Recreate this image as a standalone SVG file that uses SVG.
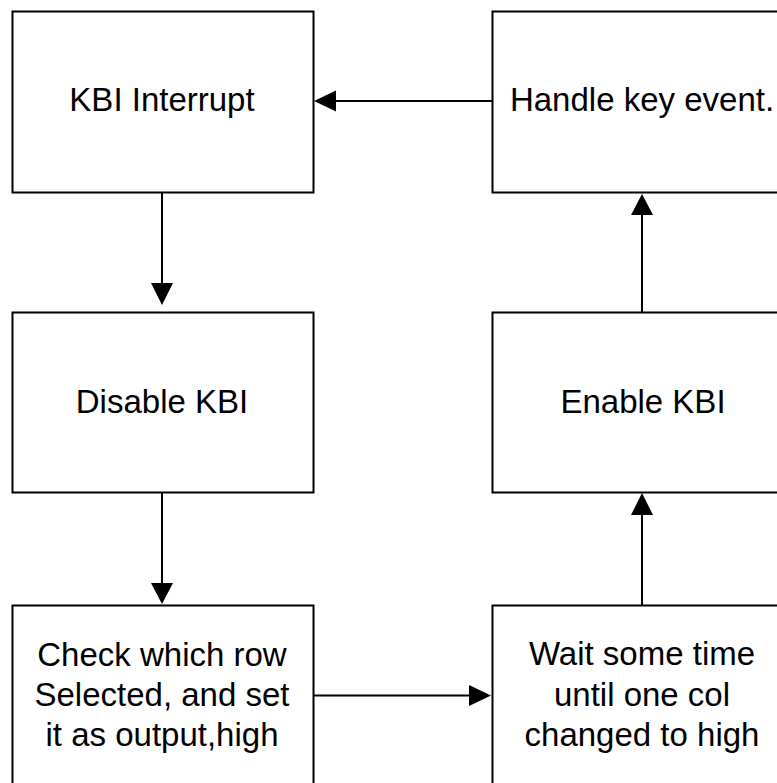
<svg xmlns="http://www.w3.org/2000/svg" width="777" height="783" viewBox="0 0 777 783">
<style>
.box{fill:#fff;stroke:#000;stroke-width:2}
.t{font-family:"Liberation Sans",Arial,sans-serif;font-size:33px;fill:#000;text-anchor:middle}
.ln{stroke:#000;stroke-width:2;fill:none}
.ah{fill:#000}
</style>
<rect width="777" height="783" fill="#fff"/>
<g id="kbi-interrupt"><rect class="box" x="12.5" y="11.5" width="301" height="181"/><text class="t" x="162" y="110.5">KBI Interrupt</text></g>
<g id="handle-key-event"><rect class="box" x="492.5" y="11.5" width="301" height="181"/><text class="t" x="642" y="110.5">Handle key event.</text></g>
<g id="disable-kbi"><rect class="box" x="12.5" y="312.5" width="301" height="180"/><text class="t" x="162" y="413">Disable KBI</text></g>
<g id="enable-kbi"><rect class="box" x="492.5" y="312.5" width="301" height="180"/><text class="t" x="643" y="413">Enable KBI</text></g>
<g id="check-row"><rect class="box" x="12.5" y="605.5" width="301" height="200"/><text class="t" x="162" y="666">Check which row</text><text class="t" x="162" y="705.5">Selected, and set</text><text class="t" x="162" y="746">it as output,high</text></g>
<g id="wait-col"><rect class="box" x="492.5" y="605.5" width="301" height="200"/><text class="t" x="642" y="665">Wait some time</text><text class="t" x="642" y="705.5">until one col</text><text class="t" x="642" y="746">changed to high</text></g>
<g id="connectors">
<line class="ln" x1="492" y1="101" x2="334" y2="101"/><polygon class="ah" points="314,101 336,90.5 336,111.5"/>
<line class="ln" x1="162" y1="193" x2="162" y2="285"/><polygon class="ah" points="162,305 151,283 173,283"/>
<line class="ln" x1="162" y1="493" x2="162" y2="585"/><polygon class="ah" points="162,604 151,583 173,583"/>
<line class="ln" x1="314" y1="695.5" x2="470" y2="695.5"/><polygon class="ah" points="491,695.5 469,685 469,706"/>
<line class="ln" x1="642" y1="605" x2="642" y2="513"/><polygon class="ah" points="642,493 631,515 653,515"/>
<line class="ln" x1="642" y1="312" x2="642" y2="213"/><polygon class="ah" points="642,194 631,215 653,215"/>
</g>
</svg>
